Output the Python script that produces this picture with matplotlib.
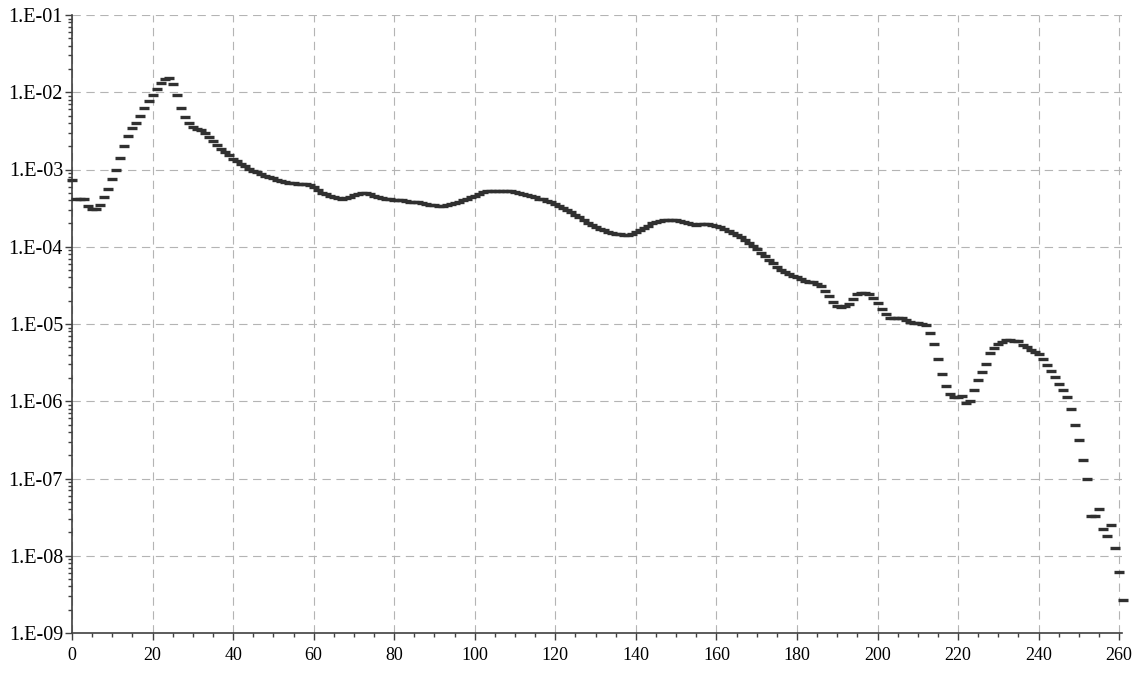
import matplotlib
matplotlib.use("Agg")
import math
import matplotlib.pyplot as plt
from matplotlib.ticker import FixedLocator, FuncFormatter, LogLocator, MultipleLocator, NullFormatter

plt.rcParams['font.family'] = ['Liberation Serif', 'DejaVu Serif']
plt.rcParams['lines.scale_dashes'] = False

# channel index (0..261)
x_values = list(range(262))

y_values = [
    7.3e-4, 4.1e-4, 4.2e-4, 4.1e-4, 3.4e-4, 3.1e-4, 3.1e-4, 3.5e-4, 4.4e-4, 5.6e-4,
    7.5e-4, 1.0e-3, 1.4e-3, 2.0e-3, 2.7e-3, 3.4e-3, 4.0e-3, 5.0e-3, 6.2e-3, 7.7e-3,
    9.2e-3, 1.1e-2, 1.33e-2, 1.47e-2, 1.54e-2, 1.28e-2, 9.2e-3, 6.2e-3, 4.8e-3, 4.0e-3,
    3.55e-3, 3.35e-3, 3.2e-3, 2.95e-3, 2.65e-3, 2.35e-3, 2.08e-3, 1.85e-3, 1.67e-3, 1.52e-3,
    1.38e-3, 1.27e-3, 1.18e-3, 1.10e-3, 1.03e-3, 9.7e-4, 9.2e-4, 8.7e-4, 8.3e-4, 8.0e-4,
    7.7e-4, 7.4e-4, 7.2e-4, 6.95e-4, 6.75e-4, 6.6e-4, 6.5e-4, 6.5e-4, 6.45e-4, 6.3e-4,
    5.9e-4, 5.4e-4, 5.0e-4, 4.75e-4, 4.55e-4, 4.4e-4, 4.25e-4, 4.2e-4, 4.3e-4, 4.45e-4,
    4.65e-4, 4.85e-4, 5.0e-4, 4.95e-4, 4.8e-4, 4.6e-4, 4.45e-4, 4.3e-4, 4.2e-4, 4.1e-4,
    4.05e-4, 4.0e-4, 4.0e-4, 3.95e-4, 3.85e-4, 3.8e-4, 3.75e-4, 3.65e-4, 3.55e-4, 3.5e-4,
    3.45e-4, 3.4e-4, 3.4e-4, 3.45e-4, 3.55e-4, 3.7e-4, 3.85e-4, 4.0e-4, 4.2e-4, 4.4e-4,
    4.6e-4, 4.85e-4, 5.05e-4, 5.2e-4, 5.25e-4, 5.3e-4, 5.3e-4, 5.3e-4, 5.3e-4, 5.25e-4,
    5.15e-4, 5.0e-4, 4.85e-4, 4.65e-4, 4.5e-4, 4.35e-4, 4.2e-4, 4.1e-4, 3.95e-4, 3.75e-4,
    3.6e-4, 3.35e-4, 3.15e-4, 3.0e-4, 2.8e-4, 2.6e-4, 2.4e-4, 2.25e-4, 2.05e-4, 1.9e-4,
    1.8e-4, 1.72e-4, 1.63e-4, 1.57e-4, 1.52e-4, 1.48e-4, 1.45e-4, 1.44e-4, 1.44e-4, 1.47e-4,
    1.55e-4, 1.65e-4, 1.77e-4, 1.88e-4, 2.0e-4, 2.1e-4, 2.17e-4, 2.23e-4, 2.25e-4, 2.25e-4,
    2.2e-4, 2.15e-4, 2.07e-4, 2.0e-4, 1.95e-4, 1.93e-4, 1.95e-4, 1.96e-4, 1.96e-4, 1.93e-4,
    1.87e-4, 1.78e-4, 1.68e-4, 1.58e-4, 1.5e-4, 1.42e-4, 1.32e-4, 1.22e-4, 1.12e-4, 1.02e-4,
    9.3e-5, 8.4e-5, 7.6e-5, 6.8e-5, 6.1e-5, 5.4e-5, 4.95e-5, 4.65e-5, 4.4e-5, 4.2e-5,
    4.0e-5, 3.8e-5, 3.6e-5, 3.5e-5, 3.45e-5, 3.3e-5, 3.1e-5, 2.65e-5, 2.3e-5, 1.9e-5,
    1.72e-5, 1.67e-5, 1.7e-5, 1.8e-5, 2.13e-5, 2.47e-5, 2.55e-5, 2.52e-5, 2.45e-5, 2.2e-5,
    1.85e-5, 1.55e-5, 1.35e-5, 1.2e-5, 1.21e-5, 1.2e-5, 1.19e-5, 1.12e-5, 1.06e-5, 1.03e-5,
    1.02e-5, 1.0e-5, 9.7e-6, 7.6e-6, 5.5e-6, 3.56e-6, 2.23e-6, 1.56e-6, 1.25e-6, 1.14e-6,
    1.15e-6, 1.18e-6, 9.4e-7, 1.0e-6, 1.4e-6, 1.87e-6, 2.4e-6, 3.07e-6, 4.25e-6, 4.93e-6,
    5.5e-6, 5.85e-6, 6.15e-6, 6.25e-6, 6.1e-6, 5.95e-6, 5.4e-6, 5.0e-6, 4.6e-6, 4.3e-6,
    4.09e-6, 3.56e-6, 2.97e-6, 2.48e-6, 2.06e-6, 1.67e-6, 1.39e-6, 1.12e-6, 7.86e-7, 4.93e-7,
    3.18e-7, 1.74e-7, 1.0e-7, 3.3e-8, 3.3e-8, 4.0e-8, 2.22e-8, 1.8e-8, 2.48e-8, 1.25e-8,
    6.2e-9, 2.67e-9,
]

x_ticks = [0, 20, 40, 60, 80, 100, 120, 140, 160, 180, 200, 220, 240, 260]
y_ticks = [1e-9, 1e-8, 1e-7, 1e-6, 1e-5, 1e-4, 1e-3, 1e-2, 1e-1]

W, H = 1134, 674
fig = plt.figure(figsize=(W / 100, H / 100), dpi=100)
ax = fig.add_axes([72 / W, (H - 633) / H, (1122 - 72) / W, (633 - 15) / H])

ax.plot(x_values, y_values, linestyle='none', marker='_', markersize=6.6,
        markeredgewidth=2.4, color='#303030', clip_on=False, zorder=3)

ax.set_yscale('log')
ax.set_xlim(0, 260.7)
ax.set_ylim(1e-9, 1e-1)

ax.xaxis.set_major_locator(FixedLocator(x_ticks))
ax.xaxis.set_minor_locator(MultipleLocator(5))
ax.yaxis.set_major_locator(FixedLocator(y_ticks))
ax.yaxis.set_minor_locator(LogLocator(base=10, subs=range(2, 10), numticks=100))
ax.yaxis.set_minor_formatter(NullFormatter())


def yfmt(v, pos):
    e = int(round(math.log10(v)))
    return "1.E-%02d" % abs(e)


ax.yaxis.set_major_formatter(FuncFormatter(yfmt))

for s in ['top', 'right']:
    ax.spines[s].set_visible(False)
for s in ['left', 'bottom']:
    ax.spines[s].set_color('#404040')
    ax.spines[s].set_linewidth(1.2)

ax.tick_params(axis='both', which='major', direction='out', length=5, width=1.0,
               color='#404040', labelcolor='black')
ax.tick_params(axis='both', which='minor', direction='out', length=3, width=1.0,
               color='#404040')
ax.tick_params(axis='x', which='major', pad=5, labelsize=13)
ax.tick_params(axis='y', which='major', pad=1.5, labelsize=14.5)

ax.grid(True, which='major', color='#b4b4b4', linestyle=(0, (6, 4)), linewidth=0.8)
ax.set_axisbelow(True)

fig.savefig('out.png', dpi=100)
